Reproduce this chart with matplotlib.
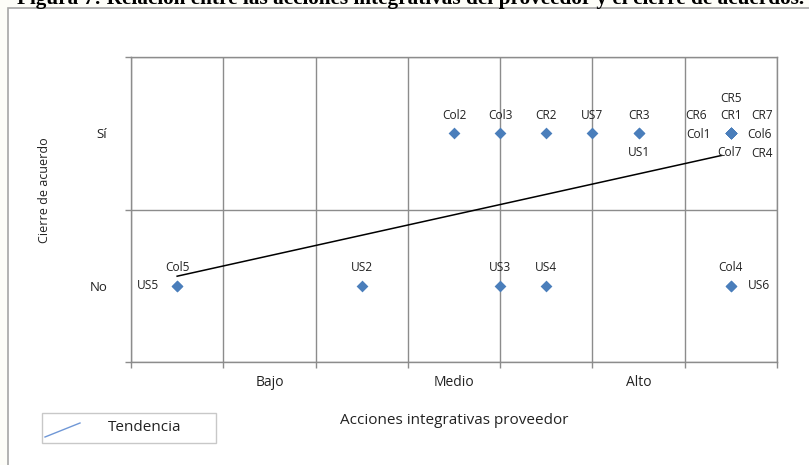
import numpy as np
import matplotlib.pyplot as plt
from matplotlib.patches import Rectangle
from matplotlib.lines import Line2D

# Puntos del diagrama: etiqueta, nivel de acciones integrativas y cierre de acuerdo
etiquetas = ['US5', 'Col5', 'US2', 'US3', 'US4', 'Col4', 'US6',
             'Col2', 'Col3', 'CR2', 'US7', 'CR3', 'US1',
             'CR5', 'CR6', 'CR1', 'CR7', 'Col1', 'Col6', 'Col7', 'CR4']
acciones = [0.5, 0.5, 2.5, 4.0, 4.5, 6.5, 6.5,
            3.5, 4.0, 4.5, 5.0, 5.5, 5.5,
            6.5, 6.5, 6.5, 6.5, 6.5, 6.5, 6.5, 6.5]
cierre = ['No', 'No', 'No', 'No', 'No', 'No', 'No',
          'Sí', 'Sí', 'Sí', 'Sí', 'Sí', 'Sí',
          'Sí', 'Sí', 'Sí', 'Sí', 'Sí', 'Sí', 'Sí', 'Sí']

niveles_x = ['Bajo', 'Medio', 'Alto']
niveles_y = ['No', 'Sí']

# desplazamiento de cada etiqueta respecto a su punto (pixeles)
offsets = {
    'US5': (-29, 0), 'Col5': (0, 18), 'US2': (0, 18), 'US3': (0, 18),
    'US4': (0, 18), 'Col4': (0, 18), 'US6': (28, 0),
    'Col2': (0, 18), 'Col3': (0, 18), 'CR2': (0, 18), 'US7': (0, 18),
    'CR3': (0, 18), 'US1': (0, -19),
    'CR5': (0, 35), 'CR6': (-35, 18), 'CR1': (0, 18), 'CR7': (31, 18),
    'Col1': (-32, -1), 'Col6': (29, -1), 'Col7': (-1, -19), 'CR4': (31, -20),
}

W, H = 809, 465
fig = plt.figure(figsize=(W / 100, H / 100), dpi=100, facecolor='#fdfdf8')

def fx(px):
    return px / W

def fy(py):
    return 1 - py / H

# marco del documento y titulo cortado arriba
fig.patches.append(Rectangle((fx(8), fy(480)), fx(830) - fx(8), fy(8) - fy(480),
                             transform=fig.transFigure, facecolor='white',
                             edgecolor='#a6a6a6', lw=1.2, zorder=-5))
fig.text(fx(17), fy(4), 'Figura 7: Relación entre las acciones integrativas del proveedor y el cierre de acuerdos.',
         family='Liberation Serif', weight='bold', fontsize=15.3, va='baseline', ha='left')

ax = fig.add_axes([fx(131), fy(362), fx(777) - fx(131), fy(57) - fy(362)])
ax.set_facecolor('white')

x = np.array(acciones)
y = np.array([niveles_y.index(c) + 0.5 for c in cierre])

ax.scatter(x, y, marker='D', s=36, color='#4a7ebb', zorder=3, linewidths=0)

# recta de tendencia por minimos cuadrados
m, b = np.polyfit(x, y, 1)
xt = np.array([x.min(), x.max() - 0.1])
ax.plot(xt, m * xt + b, color='black', lw=1.1, zorder=2)

txt = dict(family='Open Sans', color='#222222')
for name, xi, yi in zip(etiquetas, x, y):
    dx, dy = offsets[name]
    ax.annotate(name, (xi, yi), xytext=(dx, dy), textcoords='offset pixels',
                ha='center', va='center', zorder=4, fontsize=8.6, **txt)

ax.set_xlim(0, 7)
ax.set_ylim(0, 2)
ax.set_xticks(np.arange(0, 8))
ax.set_xticklabels([])
ax.set_yticks([0, 1, 2])
ax.set_yticklabels([])
ax.set_xticks([1.5, 3.5, 5.5], minor=True)
ax.set_xticklabels(niveles_x, minor=True, fontsize=10, **txt)
ax.set_yticks([0.5, 1.5], minor=True)
ax.set_yticklabels(niveles_y, minor=True, fontsize=9.5, **txt)
ax.tick_params(which='major', length=4, color='#8c8c8c', width=1)
ax.tick_params(which='minor', length=0)
ax.tick_params(axis='x', which='minor', pad=9)
ax.tick_params(axis='y', which='minor', pad=17)

ax.grid(True, which='major', color='#8c8c8c', lw=1)
ax.set_axisbelow(True)
for s in ax.spines.values():
    s.set_color('#8c8c8c')
    s.set_linewidth(1)

fig.text(fx(454), fy(420), 'Acciones integrativas proveedor', ha='center', va='center',
         fontsize=11, **txt)
fig.text(fx(45), fy(190), 'Cierre de acuerdo', ha='center', va='center', rotation=90,
         fontsize=9, **txt)

# leyenda
fig.patches.append(Rectangle((fx(42), fy(443)), fx(216) - fx(42), fy(413) - fy(443),
                             transform=fig.transFigure, facecolor='white',
                             edgecolor='#c8c8c8', lw=1))
fig.lines.append(Line2D([fx(45), fx(80)], [fy(437), fy(423)], transform=fig.transFigure,
                        color='#6f97d6', lw=1))
fig.text(fx(145), fy(427), 'Tendencia', ha='center', va='center', fontsize=11, **txt)

fig.savefig('out.png', dpi=100, facecolor=fig.get_facecolor())
